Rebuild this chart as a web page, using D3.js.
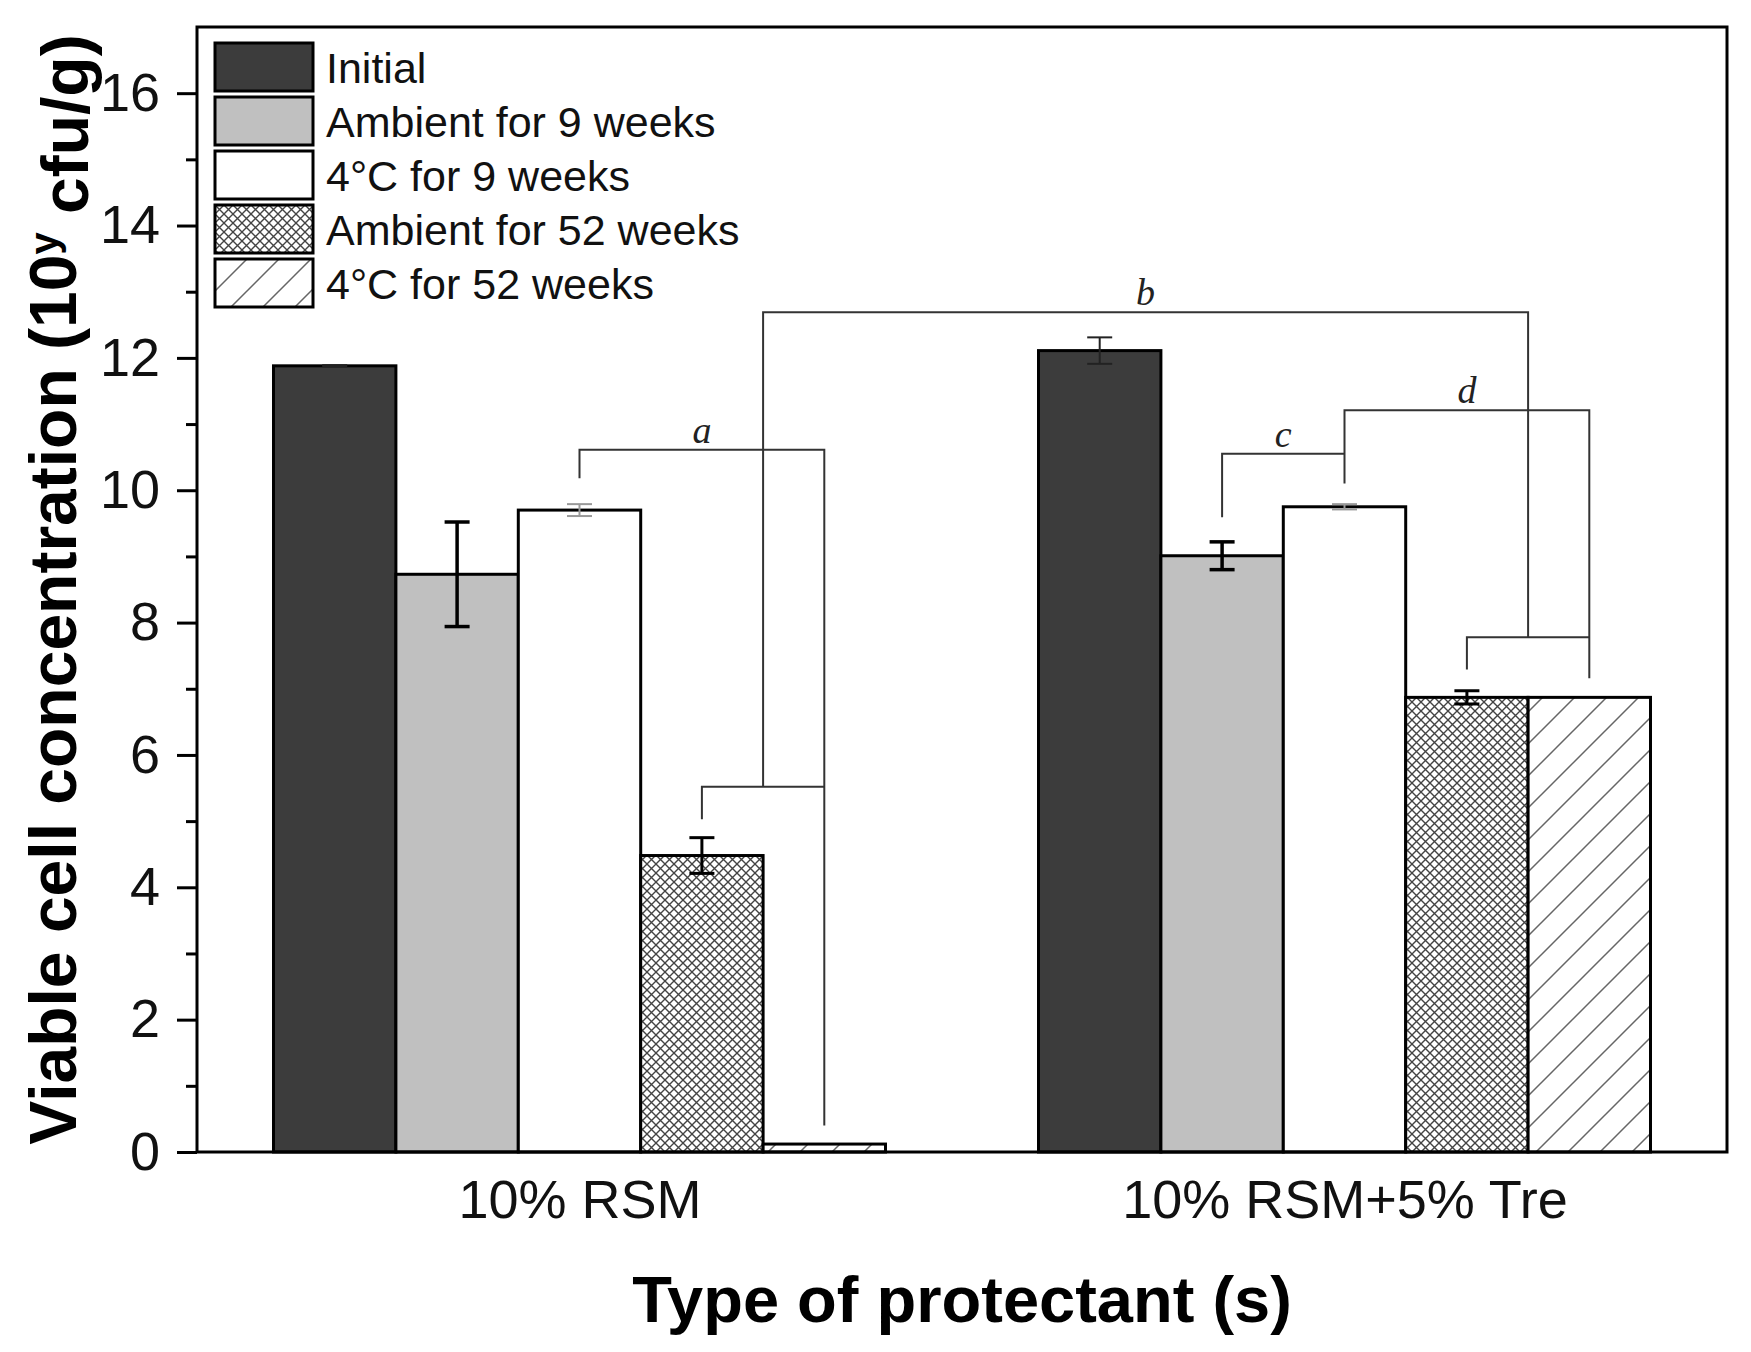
<!DOCTYPE html>
<html lang="en">
<head>
<meta charset="UTF-8">
<title>Viable cell concentration by protectant</title>
<script src="https://d3js.org/d3.v7.min.js"></script>
<style>
    body { margin: 0; background: #fff; }
    svg { display: block; font-family: "Liberation Sans", Arial, sans-serif; }
    .tick-label { font-size: 54px; fill: #111; }
    .legend text { font-size: 43px; fill: #111; }
    .axis-title { font-weight: bold; fill: #000; }
    .bracket { fill: none; stroke: #333; stroke-width: 2; }
    .bracket-label { font-family: "Liberation Serif", "Times New Roman", serif; font-style: italic; font-size: 38px; fill: #222; }
</style>
</head>
<body>
<div id="chart"></div>
<script>
// data
const groups = ["10% RSM", "10% RSM+5% Tre"];
const series = ["Initial", "Ambient for 9 weeks", "4°C for 9 weeks", "Ambient for 52 weeks", "4°C for 52 weeks"];
const rsmValues = [11.88, 8.73, 9.70, 4.48, 0.12];
const rsmErrors = [0.01, 0.79, 0.09, 0.27, 0];
const treValues = [12.11, 9.01, 9.75, 6.87, 6.87];
const treErrors = [0.20, 0.21, 0.04, 0.10, 0];
const yMajorTicks = [0, 2, 4, 6, 8, 10, 12, 14, 16];
const yMinorTicks = [1, 3, 5, 7, 9, 11, 13, 15];

// significance brackets: points are [group index, bar slot, value]
const bracketPaths = [
    [[0, 2, 10.18], [0, 2, 10.61], [0, 4, 10.61], [0, 4, 0.40]],
    [[0, 3, 5.03], [0, 3, 5.52], [0, 4, 5.52]],
    [[0, 3.5, 5.52], [0, 3.5, 12.69], [1, 3.5, 12.69], [1, 3.5, 7.78]],
    [[1, 3, 7.29], [1, 3, 7.78], [1, 4, 7.78]],
    [[1, 1, 9.59], [1, 1, 10.55], [1, 2, 10.55]],
    [[1, 2, 10.10], [1, 2, 11.21], [1, 4, 11.21], [1, 4, 7.16]]
];
const bracketLabels = [
    {text: "a", from: [0, 2], to: [0, 4], value: 10.61},
    {text: "b", from: [0, 3.5], to: [1, 3.5], value: 12.69},
    {text: "c", from: [1, 1], to: [1, 2], value: 10.55},
    {text: "d", from: [1, 2], to: [1, 4], value: 11.21}
];

const W = 1751, H = 1352;
const margin = {top: 27, right: 24, bottom: 200, left: 197};
const plotW = W - margin.left - margin.right;
const plotH = H - margin.top - margin.bottom;

const svg = d3.select("#chart").append("svg")
    .attr("width", W)
    .attr("height", H);

// fill patterns
const defs = svg.append("defs");
const xh = defs.append("pattern")
    .attr("id", "xhatch")
    .attr("patternUnits", "userSpaceOnUse")
    .attr("width", 9).attr("height", 9);
xh.append("rect").attr("width", 9).attr("height", 9).attr("fill", "#fff");
xh.append("path")
    .attr("d", "M-1,-1L10,10M10,-1L-1,10")
    .attr("stroke", "#444").attr("stroke-width", 1.4);

const dh = defs.append("pattern")
    .attr("id", "dhatch")
    .attr("patternUnits", "userSpaceOnUse")
    .attr("width", 32).attr("height", 32);
dh.append("rect").attr("width", 32).attr("height", 32).attr("fill", "#fff");
dh.append("path")
    .attr("d", "M0,32L32,0M-8,8L8,-8M24,40L40,24")
    .attr("stroke", "#666").attr("stroke-width", 1.5);

const fills = ["#3c3c3c", "#c0c0c0", "#ffffff", "url(#xhatch)", "url(#dhatch)"];
const errStroke = ["#222", "#000", "#999", "#000", "#000"];
const errWidth = [2, 3.5, 2, 3, 0];

const g = svg.append("g").attr("transform", `translate(${margin.left},${margin.top})`);

const x = d3.scalePoint().domain(groups).range([0, plotW]).padding(0.5);
const step = x.step();
const inner = d3.scaleBand().domain(series).range([-0.4 * step, 0.4 * step]);
const y = d3.scaleLinear().domain([0, 17]).range([plotH, 0]);

const slotX = (gi, slot) => x(groups[gi]) + inner(series[0]) + (slot + 0.5) * inner.bandwidth();

const rows = [];
groups.forEach((grp, gi) => {
    const vals = gi === 0 ? rsmValues : treValues;
    const errs = gi === 0 ? rsmErrors : treErrors;
    series.forEach((s, si) => rows.push({grp, gi, s, si, value: vals[si], err: errs[si]}));
});

// bars
g.selectAll(".bar")
    .data(rows)
    .enter().append("rect")
    .attr("class", "bar")
    .attr("x", d => x(d.grp) + inner(d.s))
    .attr("y", d => y(d.value))
    .attr("width", inner.bandwidth())
    .attr("height", d => y(0) - y(d.value))
    .attr("fill", d => fills[d.si])
    .attr("stroke", "#000")
    .attr("stroke-width", 3);

// error bars
const capHalf = 12.5;
const eb = g.selectAll(".err")
    .data(rows.filter(d => d.err > 0))
    .enter().append("g")
    .attr("class", "err")
    .attr("stroke", d => errStroke[d.si])
    .attr("stroke-width", d => errWidth[d.si]);
eb.append("line")
    .attr("x1", d => x(d.grp) + inner(d.s) + inner.bandwidth() / 2)
    .attr("x2", d => x(d.grp) + inner(d.s) + inner.bandwidth() / 2)
    .attr("y1", d => y(d.value + d.err))
    .attr("y2", d => y(d.value - d.err));
[1, -1].forEach(sign => {
    eb.append("line")
        .attr("x1", d => x(d.grp) + inner(d.s) + inner.bandwidth() / 2 - capHalf)
        .attr("x2", d => x(d.grp) + inner(d.s) + inner.bandwidth() / 2 + capHalf)
        .attr("y1", d => y(d.value + sign * d.err))
        .attr("y2", d => y(d.value + sign * d.err));
});

// significance brackets
const bracketLine = d3.line()
    .x(p => slotX(p[0], p[1]))
    .y(p => y(p[2]));
g.selectAll(".bracket")
    .data(bracketPaths)
    .enter().append("path")
    .attr("class", "bracket")
    .attr("d", bracketLine);
g.selectAll(".bracket-label")
    .data(bracketLabels)
    .enter().append("text")
    .attr("class", "bracket-label")
    .attr("x", d => (slotX(d.from[0], d.from[1]) + slotX(d.to[0], d.to[1])) / 2)
    .attr("y", d => y(d.value) - 7)
    .attr("text-anchor", "middle")
    .text(d => d.text);

// frame
g.append("rect")
    .attr("width", plotW)
    .attr("height", plotH)
    .attr("fill", "none")
    .attr("stroke", "#000")
    .attr("stroke-width", 3);

// y axis
const yAxis = g.append("g")
    .call(d3.axisLeft(y).tickValues(yMajorTicks).tickSize(20).tickPadding(17).tickFormat(d3.format("d")));
yAxis.select(".domain").remove();
yAxis.selectAll(".tick line").attr("stroke", "#000").attr("stroke-width", 3);
yAxis.selectAll(".tick text").attr("class", "tick-label").attr("font-size", null).attr("font-family", null);

const yMinor = g.append("g")
    .call(d3.axisLeft(y).tickValues(yMinorTicks).tickSize(11).tickFormat(""));
yMinor.select(".domain").remove();
yMinor.selectAll(".tick line").attr("stroke", "#000").attr("stroke-width", 3);

// x axis labels
const xAxis = g.append("g")
    .attr("transform", `translate(0,${plotH})`)
    .call(d3.axisBottom(x).tickSize(0).tickPadding(28));
xAxis.select(".domain").remove();
xAxis.selectAll(".tick text").attr("class", "tick-label").attr("font-size", null).attr("font-family", null);

// axis titles
g.append("text")
    .attr("class", "axis-title")
    .attr("x", plotW / 2)
    .attr("y", plotH + 170)
    .attr("text-anchor", "middle")
    .style("font-size", "65px")
    .text("Type of protectant (s)");

const yTitle = g.append("text")
    .attr("class", "axis-title")
    .attr("transform", `translate(${76 - margin.left},${plotH / 2}) rotate(-90)`)
    .attr("text-anchor", "middle")
    .style("font-size", "66px");
yTitle.append("tspan").text("Viable cell concentration (10");
yTitle.append("tspan").attr("dy", "-0.45em").style("font-size", "40px").text("y");
yTitle.append("tspan").attr("dy", "0.45em").text(" cfu/g)");

// legend
const legend = g.append("g")
    .attr("class", "legend")
    .attr("transform", "translate(18,16)");
const item = legend.selectAll(".legend-item")
    .data(series)
    .enter().append("g")
    .attr("class", "legend-item")
    .attr("transform", (d, i) => `translate(0,${i * 54})`);
item.append("rect")
    .attr("width", 98)
    .attr("height", 48)
    .attr("fill", (d, i) => fills[i])
    .attr("stroke", "#000")
    .attr("stroke-width", 3);
item.append("text")
    .attr("x", 111)
    .attr("y", 40)
    .text(d => d);
</script>
</body>
</html>
